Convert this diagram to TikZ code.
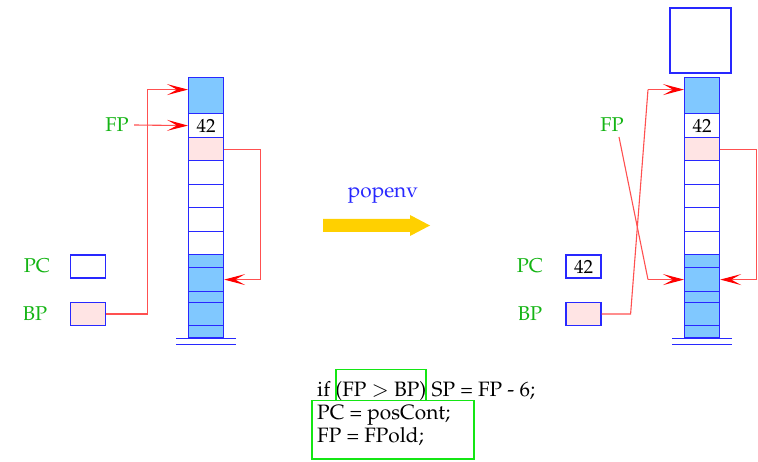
\documentclass[tikz,border=0pt]{standalone}
\usepackage[T1]{fontenc}
\usepackage{mathpazo}
\usetikzlibrary{arrows.meta,calc}

\definecolor{cellblue}{RGB}{128,200,255}
\definecolor{lineblue}{RGB}{40,40,255}
\definecolor{cellpink}{RGB}{255,228,228}
\definecolor{linkred}{RGB}{255,80,80}
\definecolor{labelgreen}{RGB}{20,180,20}
\definecolor{boxgreen}{RGB}{20,230,20}
\definecolor{popgold}{RGB}{255,208,0}

\tikzset{
  cell/.style={draw=lineblue, line width=1.2pt, inner sep=0pt, anchor=north west,
               minimum width=35pt, font=\fontsize{19}{22}\selectfont},
  bluecell/.style={cell, fill=cellblue},
  pinkcell/.style={cell, fill=cellpink},
  whitecell/.style={cell, fill=white},
  regbox/.style={draw=lineblue, line width=1.2pt, inner sep=0pt, minimum width=35pt,
                 minimum height=23pt, font=\fontsize{19}{22}\selectfont},
  reglabel/.style={text=labelgreen, font=\fontsize{20}{24}\selectfont},
  link/.style={draw=linkred, line width=1.1pt},
  linkarrow/.style={link, -{Stealth[length=21pt,width=11pt,inset=10pt,color=red]}},
  codeline/.style={anchor=base west, inner sep=0pt, font=\fontsize{20.8}{24}\selectfont},
  greenbox/.style={draw=boxgreen, line width=1.5pt},
  basebar/.style={draw=lineblue, line width=1pt}
}

% one stack of frames; #1 = name prefix, #2 = left edge
\newcommand{\framestack}[2]{%
  \node[bluecell,  minimum height=36pt] (#1top) at (#2,77) {};
  \node[whitecell, minimum height=24pt] (#1v42) at (#2,113) {42};
  \node[pinkcell,  minimum height=23pt] (#1pink) at (#2,137) {};
  \node[whitecell, minimum height=24pt] (#1w1) at (#2,160) {};
  \node[whitecell, minimum height=23pt] (#1w2) at (#2,184) {};
  \node[whitecell, minimum height=24pt] (#1w3) at (#2,207) {};
  \node[whitecell, minimum height=23pt] (#1w4) at (#2,231) {};
  \node[bluecell,  minimum height=13pt] (#1b1) at (#2,254) {};
  \node[bluecell,  minimum height=24pt] (#1b2) at (#2,267) {};
  \node[bluecell,  minimum height=11pt] (#1b3) at (#2,291) {};
  \node[bluecell,  minimum height=23pt] (#1b4) at (#2,302) {};
  \node[bluecell,  minimum height=12pt] (#1b5) at (#2,325) {};
  \draw[basebar] ($(#1b5.south west)+(-12,0)$) -- ($(#1b5.south east)+(12,0)$);
  \draw[basebar] ($(#1b5.south west)+(-12,6)$) -- ($(#1b5.south east)+(12,6)$);
}

\begin{document}
\begin{tikzpicture}[x=1pt,y=-1pt]
\useasboundingbox (0,0) rectangle (758,462);

% ---------- before popenv ----------
\framestack{L}{188}
\node[reglabel] (FPl) at (117,125) {FP};
\node[reglabel] (PCl) at (37,266) {PC};
\node[reglabel] (BPl) at (35,314) {BP};
\node[regbox, fill=white] (PCbox) at (88,266.5) {};
\node[regbox, fill=cellpink] (BPbox) at (88,314) {};

\draw[linkarrow] ([xshift=2pt]FPl.east) -- (Lv42.west);
\draw[linkarrow] (BPbox.east) -- ++(41,0) |- ([yshift=6pt]Ltop.west);
\draw[linkarrow] (Lpink.east) -- ++(36,0) |- (Lb2.east);

% ---------- transition ----------
\node[text=lineblue, font=\fontsize{20.8}{24}\selectfont] (popenv) at (383,195) {popenv};
\fill[popgold] (323,219) -- (410,219) -- (410,215) -- (430,225.5)
  -- (410,236) -- (410,232) -- (323,232) -- cycle;

% ---------- after popenv ----------
\framestack{R}{684}
\node[draw=lineblue, line width=2pt, minimum width=61pt, minimum height=65pt,
      inner sep=0pt] (newframe) at (700.5,40.3) {};
\node[reglabel] (FPr) at (612,125) {FP};
\node[reglabel] (PCr) at (530,266) {PC};
\node[reglabel] (BPr) at (530,314) {BP};
\node[regbox, fill=white] (PCboxR) at (583.5,266.5) {42};
\node[regbox, fill=cellpink] (BPboxR) at (583.5,314) {};

\coordinate (fpbend) at ($(Rb2.west)+(-36,0)$);
\coordinate (bpbend) at ($(Rtop.west)+(-36,-6)$);
\draw[link] (619,137) -- (fpbend);
\draw[linkarrow] (fpbend) -- (Rb2.west);
\draw[link] (BPboxR.east) -- ++(29,0) -- (bpbend);
\draw[linkarrow] (bpbend) -- ([yshift=6pt]Rtop.west);
\draw[linkarrow] (Rpink.east) -- ++(36,0) |- (Rb2.east);

% ---------- code ----------
\node[codeline] (c1) at (317,396) {if (FP $>$ BP) SP = FP - 6;};
\node[codeline] (c2) at (317,419) {PC = posCont;};
\node[codeline] (c3) at (317,442) {FP = FPold;};
\draw[greenbox] (336,369.5) rectangle (426,400.5);
\draw[greenbox] (312,400.5) rectangle (474,459);
\end{tikzpicture}
\end{document}
